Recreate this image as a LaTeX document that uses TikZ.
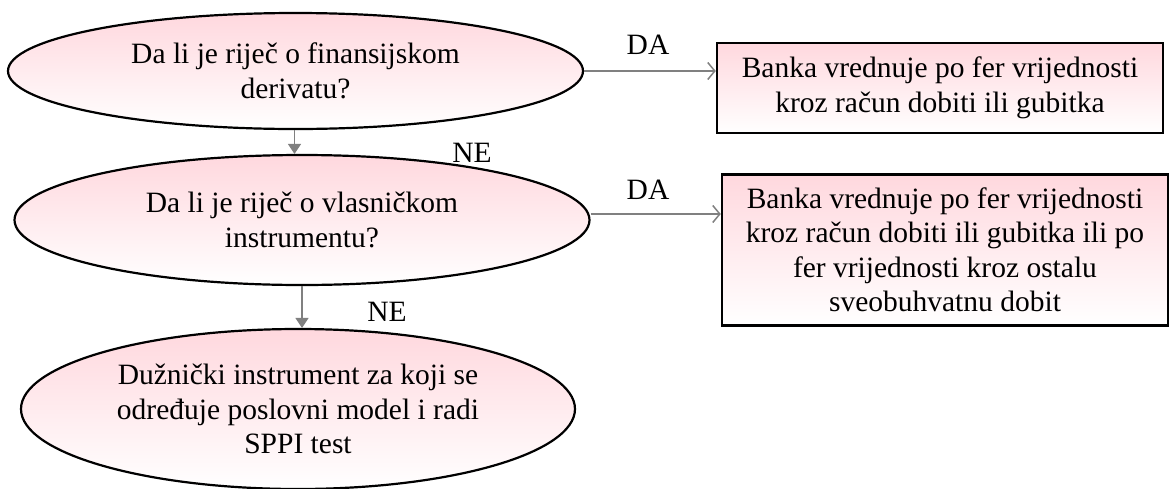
\documentclass[tikz,border=0pt]{standalone}
\usepackage{fontspec}
\setmainfont{Liberation Serif}
\usetikzlibrary{shapes.geometric,arrows.meta}
\definecolor{pinktop}{RGB}{255,216,222}
\definecolor{arrowgray}{RGB}{128,128,128}
\begin{document}
\begin{tikzpicture}[x=1pt,y=1pt,
  txt/.style={font=\fontsize{29.5}{34.5}\selectfont, align=center},
  oval/.style={ellipse, draw=black, line width=2.2pt, top color=pinktop, bottom color=white, inner sep=0pt, txt},
  outbox/.style={rectangle, draw=black, line width=2.5pt, top color=pinktop, bottom color=white, inner sep=0pt, txt},
  flowdown/.style={draw=arrowgray, line width=1.5pt, -{Triangle[width=13pt,length=10pt]}},
  flowright/.style={draw=arrowgray, line width=1.5pt, -{Straight Barb[length=7pt,width=17pt,line width=1.5pt]}},
  lbl/.style={txt, inner sep=0pt}
]
\useasboundingbox (0,0) rectangle (1171,-488);

\node[oval, minimum width=575pt, minimum height=116pt] (e1) at (295.5,-71) {Da li je riječ o finansijskom\\derivatu?};
\node[oval, minimum width=575pt, minimum height=130pt] (e2) at (302,-220) {Da li je riječ o vlasničkom\\instrumentu?};
\node[oval, minimum width=554pt, minimum height=160pt] (e3) at (298,-409) {Dužnički instrument za koji se\\određuje poslovni model i radi\\SPPI test};

\node[outbox, minimum width=446pt, minimum height=90pt] (b1) at (940,-88) {Banka vrednuje po fer vrijednosti\\kroz račun dobiti ili gubitka};
\node[outbox, minimum width=446pt, minimum height=151pt] (b2) at (945,-250) {Banka vrednuje po fer vrijednosti\\kroz račun dobiti ili gubitka ili po\\fer vrijednosti kroz ostalu\\sveobuhvatnu dobit};

\draw[flowright] (e1.east) -- (e1.east -| b1.west);
\draw[flowright] ([yshift=6pt]e2.east) -- ([yshift=6pt]e2.east -| b2.west);
\draw[flowdown] ([xshift=-1pt]e1.south) -- ([xshift=-1pt]e1.south |- e2.north);
\draw[flowdown] (e2.south) -- (e2.south |- e3.north);

\node[lbl] (da1) at (648,-45) {DA};
\node[lbl] (da2) at (648,-190) {DA};
\node[lbl] (ne1) at (472,-153) {NE};
\node[lbl] (ne2) at (387,-312) {NE};
\end{tikzpicture}
\end{document}
